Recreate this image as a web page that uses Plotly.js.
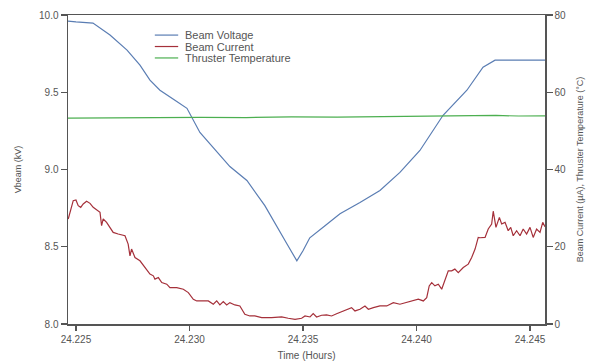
<!DOCTYPE html>
<html>
<head>
<meta charset="utf-8">
<script src="https://cdn.plot.ly/plotly-3.0.1.min.js"></script>
<style>
html,body{margin:0;padding:0;background:#fff;}
#chart{width:592px;height:364px;}
</style>
</head>
<body>
<div id="chart"></div>
<script>
// Beam voltage (kV)
const voltTime = [24.22465,24.22500,24.22575,24.22606,24.22650,24.22725,24.22782,24.22826,24.22870,24.22936,24.22989,24.23046,24.23112,24.23178,24.23253,24.23332,24.23429,24.23473,24.23500,24.23530,24.23597,24.23663,24.23751,24.23839,24.23927,24.24015,24.24117,24.24222,24.24293,24.24346,24.24566];
const voltValues = [9.961,9.955,9.948,9.916,9.870,9.773,9.675,9.578,9.513,9.448,9.396,9.240,9.130,9.019,8.929,8.766,8.519,8.409,8.474,8.558,8.636,8.714,8.786,8.864,8.981,9.123,9.351,9.513,9.662,9.708,9.708];

// Beam current (uA)
const currTime = [24.22466,24.22474,24.22488,24.22500,24.22510,24.22521,24.22532,24.22547,24.22562,24.22576,24.22591,24.22606,24.22613,24.22620,24.22635,24.22650,24.22664,24.22686,24.22716,24.22730,24.22738,24.22745,24.22760,24.22782,24.22811,24.22826,24.22841,24.22848,24.22863,24.22878,24.22900,24.22914,24.22944,24.22973,24.22995,24.23017,24.23032,24.23054,24.23083,24.23105,24.23120,24.23134,24.23149,24.23164,24.23178,24.23200,24.23222,24.23244,24.23266,24.23288,24.23318,24.23362,24.23406,24.23435,24.23465,24.23494,24.23509,24.23531,24.23545,24.23560,24.23582,24.23604,24.23626,24.23648,24.23670,24.23692,24.23714,24.23729,24.23751,24.23773,24.23788,24.23810,24.23839,24.23869,24.23898,24.23927,24.23957,24.23986,24.24008,24.24030,24.24045,24.24056,24.24067,24.24081,24.24096,24.24111,24.24125,24.24140,24.24155,24.24169,24.24184,24.24206,24.24228,24.24243,24.24258,24.24272,24.24280,24.24302,24.24316,24.24331,24.24338,24.24350,24.24365,24.24375,24.24390,24.24404,24.24415,24.24426,24.24441,24.24456,24.24470,24.24485,24.24500,24.24514,24.24529,24.24544,24.24556,24.24566];
const currValues = [27.19,28.90,31.94,32.12,30.64,30.20,31.09,31.76,31.24,30.20,29.53,28.90,25.45,27.19,26.31,25.01,23.71,23.30,22.85,20.70,17.66,19.40,17.22,16.36,14.21,12.91,12.47,11.61,12.02,10.73,10.31,9.43,9.43,9.01,8.13,6.41,5.97,5.97,5.97,5.12,5.97,4.93,5.79,4.93,5.53,4.93,4.67,2.52,2.08,2.08,1.64,1.64,1.82,1.48,1.22,1.48,2.08,1.82,2.67,1.82,2.26,2.34,2.08,2.67,3.19,3.82,4.23,3.38,3.82,4.67,3.82,4.23,4.67,4.67,5.53,5.12,5.53,5.97,6.41,5.97,6.83,9.87,10.73,9.87,10.31,9.01,11.61,13.76,13.76,14.21,13.32,14.62,15.50,17.22,19.40,22.41,22.33,22.41,24.59,25.89,29.20,25.01,27.61,25.89,26.31,24.15,25.01,22.85,24.15,22.85,24.59,23.30,25.01,22.41,24.59,23.71,26.31,25.19];

// Thruster temperature (degC)
const tempTime = [24.22465,24.22650,24.22850,24.23050,24.23250,24.23450,24.23650,24.23850,24.24050,24.24250,24.24350,24.24450,24.24566];
const tempValues = [53.30,53.40,53.35,53.50,53.45,53.60,53.55,53.70,53.80,53.90,54.00,53.85,53.90];

const seriesNames = ['Beam Voltage', 'Beam Current', 'Thruster Temperature'];
const seriesColors = ['#5a7db3', '#a5303a', '#4caf50'];

const xTicks = [24.225,24.230,24.235,24.240,24.245];
const yLeftTicks = [8.0,8.5,9.0,9.5,10.0];
const yRightTicks = [0,20,40,60,80];

const fontFam = '"Liberation Sans", Arial, sans-serif';
const axisColor = '#555';
const textColor = '#555';

const traces = [
  {x: voltTime, y: voltValues, name: seriesNames[0], type: 'scatter', mode: 'lines',
   line: {color: seriesColors[0], width: 1.2}, yaxis: 'y'},
  {x: currTime, y: currValues, name: seriesNames[1], type: 'scatter', mode: 'lines',
   line: {color: seriesColors[1], width: 1.2}, yaxis: 'y2'},
  {x: tempTime, y: tempValues, name: seriesNames[2], type: 'scatter', mode: 'lines',
   line: {color: seriesColors[2], width: 1.2}, yaxis: 'y2'}
];

// compact legend drawn as shapes + annotations (paper coords)
const legX0 = 0.182, legX1 = 0.231, legTextX = 0.241;
const legY = [0.935, 0.898, 0.861];
const shapes = seriesNames.map((n, i) => ({
  type: 'line', xref: 'paper', yref: 'paper', x0: legX0, x1: legX1, y0: legY[i], y1: legY[i],
  line: {color: seriesColors[i], width: 1.2}
}));
const annotations = seriesNames.map((n, i) => ({
  text: n, xref: 'paper', yref: 'paper', x: legTextX, y: legY[i], xanchor: 'left', yanchor: 'middle',
  showarrow: false, font: {size: 11, color: '#555', family: fontFam}
}));

const layout = {
  width: 592, height: 364,
  margin: {l: 68, r: 47, t: 15, b: 40, pad: 0},
  paper_bgcolor: '#fff', plot_bgcolor: '#fff',
  font: {family: fontFam, size: 10, color: textColor},
  showlegend: false,
  shapes: shapes,
  annotations: annotations,
  xaxis: {range: [24.22465, 24.24566], tickvals: xTicks, ticktext: xTicks.map(v => v.toFixed(3)),
          showgrid: false, zeroline: false, showline: true, linecolor: axisColor, linewidth: 1.5,
          mirror: true, ticks: 'outside', ticklen: 5, tickcolor: axisColor, tickwidth: 1.2,
          tickfont: {size: 10, color: textColor},
          title: {text: 'Time (Hours)', font: {size: 10, color: textColor}, standoff: 8}},
  yaxis: {range: [8, 10], tickvals: yLeftTicks, ticktext: yLeftTicks.map(v => v.toFixed(1)),
          showgrid: false, zeroline: false, showline: true, linecolor: axisColor, linewidth: 1.5,
          ticks: 'outside', ticklen: 6, tickcolor: axisColor, tickwidth: 1.2,
          tickfont: {size: 10, color: textColor},
          title: {text: 'Vbeam (kV)', font: {size: 9, color: textColor}, standoff: 16}},
  yaxis2: {range: [0, 80], tickvals: yRightTicks, overlaying: 'y', side: 'right',
           showgrid: false, zeroline: false, showline: true, linecolor: axisColor, linewidth: 1.5,
           ticks: 'outside', ticklen: 6, tickcolor: axisColor, tickwidth: 1.2,
           tickfont: {size: 10, color: textColor},
           title: {text: 'Beam Current (µA), Thruster Temperature (°C)', font: {size: 9, color: textColor}, standoff: 11}}
};

Plotly.newPlot('chart', traces, layout, {staticPlot: true, displayModeBar: false});
</script>
</body>
</html>
